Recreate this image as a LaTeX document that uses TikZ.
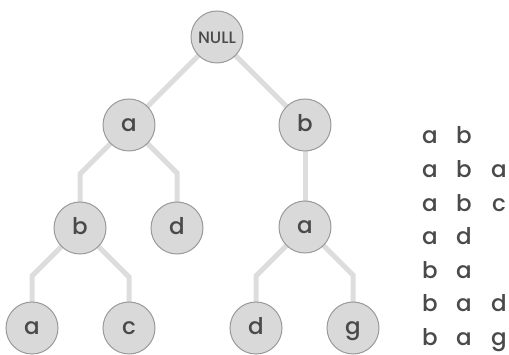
\documentclass[tikz,border=0pt]{standalone}
\usepackage{fontspec}
\setmainfont{Poppins Medium}
\usetikzlibrary{backgrounds}
\definecolor{edgegray}{HTML}{DDDDDD}
\definecolor{nodefill}{HTML}{D9D9D9}
\definecolor{nodeline}{HTML}{9A9A9A}
\definecolor{txt}{HTML}{4A4A4A}
\tikzset{
  tnode/.style={circle, draw=nodeline, line width=1pt, fill=nodefill, minimum size=52pt, inner sep=0pt,
     text=txt, font=\fontsize{23}{23}\selectfont, text height=14pt, text depth=0pt},
  nullnode/.style={tnode, font=\fontsize{16.5}{16.5}\selectfont, text height=14pt, text depth=0pt},
  tedge/.style={draw=edgegray, line width=5pt},
  listtxt/.style={anchor=base, inner sep=0pt, text=txt, font=\fontsize{23}{23}\selectfont}
}
\begin{document}
\begin{tikzpicture}[x=1pt,y=-1pt]
\useasboundingbox (0,0) rectangle (509,355);
\node[nullnode] (root) at (217,37) {NULL};
\node[tnode] (a1) at (129,125) {a};
\node[tnode] (b1) at (305,125) {b};
\node[tnode] (b2) at (80,228) {b};
\node[tnode] (d2) at (177,228) {d};
\node[tnode] (a2) at (305,227) {a};
\node[tnode] (a3) at (32,328) {a};
\node[tnode] (c3) at (129,328) {c};
\node[tnode] (d3) at (256,328) {d};
\node[tnode] (g3) at (353,328) {g};
\begin{scope}[on background layer]
\draw[tedge] (root.center) -- (a1.center);
\draw[tedge] (root.center) -- (b1.center);
\draw[tedge] (a1.center) -- ++(-49,49) -- (b2.center);
\draw[tedge] (a1.center) -- ++(48,48) -- (d2.center);
\draw[tedge] (b1.center) -- (a2.center);
\draw[tedge] (b2.center) -- ++(-48,48) -- (a3.center);
\draw[tedge] (b2.center) -- ++(49,49) -- (c3.center);
\draw[tedge] (a2.center) -- ++(-49,49) -- (d3.center);
\draw[tedge] (a2.center) -- ++(48,48) -- (g3.center);
\end{scope}
\foreach \r/\x/\y/\z [count=\i] in {a/b//, a/b/a/, a/b/c/, a/d//, b/a//, b/a/d/, b/a/g/} {
  \pgfmathsetmacro{\yb}{144+33.6*(\i-1)}
  \node[listtxt] (l\i a) at (430,\yb) {\r};
  \node[listtxt] (l\i b) at (464,\yb) {\x};
  \node[listtxt] (l\i c) at (499,\yb) {\y};
}
\end{tikzpicture}
\end{document}
